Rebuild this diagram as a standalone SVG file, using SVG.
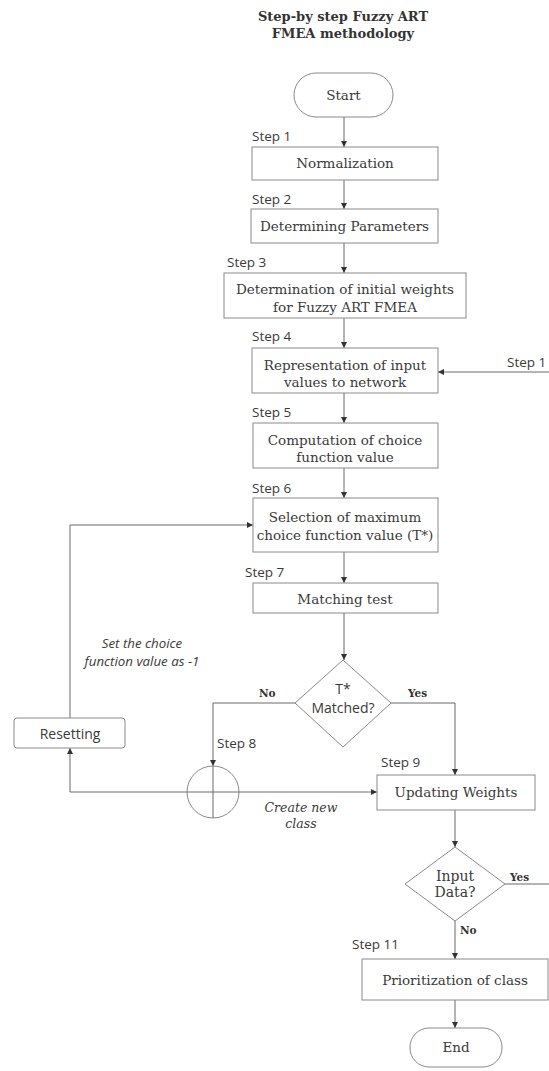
<svg xmlns="http://www.w3.org/2000/svg" width="549" height="1071" viewBox="0 0 549 1071">
<style>
.bx{fill:#fff;stroke:#8a8a8a;stroke-width:1}
.ln{fill:none;stroke:#6a6a6a;stroke-width:1}
.t{font-family:"DejaVu Serif","Liberation Serif",serif;font-size:13.5px;fill:#3a3a3a;text-anchor:middle}
.s{font-family:"Open Sans","Liberation Sans",sans-serif;font-size:13.5px;fill:#3a3a3a}
.ds{font-family:"Open Sans","Liberation Sans",sans-serif;font-size:14px;fill:#3a3a3a;text-anchor:middle}
.ti{font-family:"DejaVu Serif","Liberation Serif",serif;font-size:13px;font-weight:bold;fill:#333;text-anchor:middle}
.it{font-family:"Open Sans","Liberation Sans",sans-serif;font-size:13.3px;font-style:italic;fill:#3a3a3a;text-anchor:middle}
.its{font-family:"DejaVu Serif","Liberation Serif",serif;font-size:12.5px;font-style:italic;fill:#3a3a3a;text-anchor:middle}
.yn{font-family:"DejaVu Serif","Liberation Serif",serif;font-size:10.5px;font-weight:bold;fill:#333}
</style>
<defs>
<marker id="ah" markerWidth="8" markerHeight="8" refX="7" refY="4" orient="auto" markerUnits="userSpaceOnUse">
<path d="M1,1 L7,4 L1,7 Z" fill="#333"/>
</marker>
</defs>
<rect width="549" height="1071" fill="#fff"/>
<g id="title">
<text class="ti" x="343" y="21">Step-by step Fuzzy ART</text>
<text class="ti" x="343" y="38">FMEA methodology</text>
</g>
<g id="connectors">
<path class="ln" d="M344,117 V147" marker-end="url(#ah)"/>
<path class="ln" d="M344,180 V209" marker-end="url(#ah)"/>
<path class="ln" d="M344,243 V273" marker-end="url(#ah)"/>
<path class="ln" d="M344,318 V348" marker-end="url(#ah)"/>
<path class="ln" d="M344,393 V423" marker-end="url(#ah)"/>
<path class="ln" d="M344,468 V498" marker-end="url(#ah)"/>
<path class="ln" d="M344,552 V583" marker-end="url(#ah)"/>
<path class="ln" d="M344,613 V660" marker-end="url(#ah)"/>
<path class="ln" d="M549,372 H438" marker-end="url(#ah)"/>
<path class="ln" d="M295,703 H213 V766" marker-end="url(#ah)"/>
<path class="ln" d="M391,703 H455 V775" marker-end="url(#ah)"/>
<path class="ln" d="M187,792 H70 V748" marker-end="url(#ah)"/>
<path class="ln" d="M239,792 H377" marker-end="url(#ah)"/>
<path class="ln" d="M70,718 V525 H253" marker-end="url(#ah)"/>
<path class="ln" d="M455,810 V847" marker-end="url(#ah)"/>
<path class="ln" d="M455,921 V959" marker-end="url(#ah)"/>
<path class="ln" d="M505,884 H549"/>
<path class="ln" d="M455,1000 V1028" marker-end="url(#ah)"/>
<text class="s" x="507" y="367">Step 1</text>
<text class="yn" x="259" y="697">No</text>
<text class="yn" x="408" y="697">Yes</text>
<text class="yn" x="510" y="881">Yes</text>
<text class="yn" x="460" y="934">No</text>
<text class="it" x="142" y="648">Set the choice</text>
<text class="it" x="142" y="666">function value as -1</text>
<text class="its" x="301" y="812">Create new</text>
<text class="its" x="301" y="828">class</text>
</g>
<g id="start">
<rect class="bx" x="294" y="73" width="99" height="44" rx="22"/>
<text class="t" x="343.5" y="100">Start</text>
</g>
<g id="step1">
<text class="s" x="252" y="141">Step 1</text>
<rect class="bx" x="252" y="147" width="186" height="33"/>
<text class="t" x="345" y="168">Normalization</text>
</g>
<g id="step2">
<text class="s" x="252" y="204">Step 2</text>
<rect class="bx" x="251" y="209" width="187" height="34"/>
<text class="t" x="344.5" y="231">Determining Parameters</text>
</g>
<g id="step3">
<text class="s" x="227" y="267">Step 3</text>
<rect class="bx" x="224" y="273" width="242" height="45"/>
<text class="t" x="345" y="294">Determination of initial weights</text>
<text class="t" x="345" y="312">for Fuzzy ART FMEA</text>
</g>
<g id="step4">
<text class="s" x="252" y="341">Step 4</text>
<rect class="bx" x="252" y="348" width="186" height="45"/>
<text class="t" x="345" y="370">Representation of input</text>
<text class="t" x="345" y="387">values to network</text>
</g>
<g id="step5">
<text class="s" x="252" y="417">Step 5</text>
<rect class="bx" x="253" y="423" width="185" height="45"/>
<text class="t" x="345" y="445">Computation of choice</text>
<text class="t" x="345" y="462">function value</text>
</g>
<g id="step6">
<text class="s" x="252" y="493">Step 6</text>
<rect class="bx" x="253" y="498" width="185" height="54"/>
<text class="t" x="345" y="522">Selection of maximum</text>
<text class="t" x="345" y="540">choice function value (T*)</text>
</g>
<g id="step7">
<text class="s" x="245" y="577">Step 7</text>
<rect class="bx" x="253" y="583" width="185" height="30"/>
<text class="t" x="345" y="604">Matching test</text>
</g>
<g id="matched">
<path class="bx" d="M343,660 L391,703 L343,747 L295,703 Z"/>
<text class="ds" x="343" y="694">T*</text>
<text class="ds" x="343" y="713">Matched?</text>
</g>
<g id="resetting">
<rect class="bx" x="14" y="718" width="111" height="30" rx="3"/>
<text class="ds" x="70" y="739">Resetting</text>
</g>
<g id="step8">
<text class="s" x="217" y="748">Step 8</text>
<circle cx="213" cy="792" r="26" fill="#fff" stroke="#8a8a8a"/>
<path class="ln" d="M187,792 H239 M213,766 V818"/>
</g>
<g id="step9">
<text class="s" x="381" y="767">Step 9</text>
<rect class="bx" x="377" y="775" width="158" height="35"/>
<text class="t" x="456" y="797">Updating Weights</text>
</g>
<g id="inputdata">
<path class="bx" d="M455,847 L505,884 L455,921 L405,884 Z"/>
<text class="t" x="455" y="881" style="font-size:14px">Input</text>
<text class="t" x="455" y="897" style="font-size:14px">Data?</text>
</g>
<g id="step11">
<text class="s" x="352" y="949">Step 11</text>
<rect class="bx" x="362" y="959" width="186" height="41"/>
<text class="t" x="455" y="985">Prioritization of class</text>
</g>
<g id="end">
<rect class="bx" x="410" y="1028" width="92" height="39" rx="19"/>
<text class="t" x="456" y="1052">End</text>
</g>
</svg>
